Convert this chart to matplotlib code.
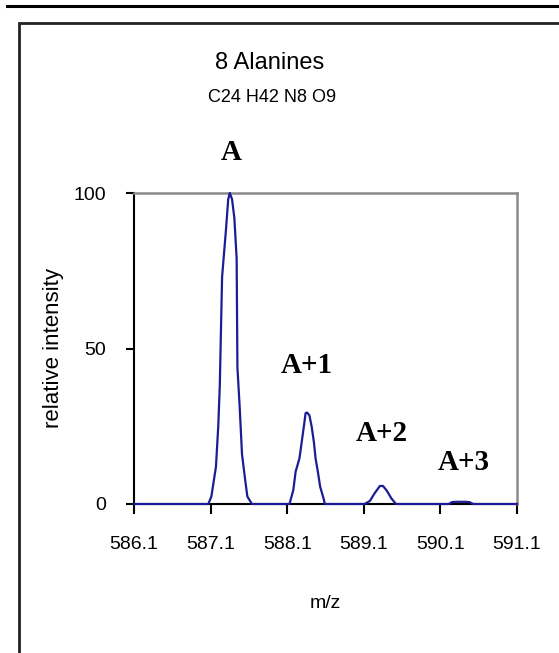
import matplotlib
matplotlib.use("Agg")
import matplotlib.pyplot as plt
from matplotlib.lines import Line2D
from matplotlib.patches import Rectangle

# spectrum, one peak at a time (m/z, relative intensity)
peak_a_mz = [587.07, 587.11, 587.17, 587.20, 587.22, 587.25, 587.30, 587.33, 587.35,
             587.38, 587.41, 587.44, 587.45, 587.48, 587.51, 587.55, 587.58, 587.64]
peak_a_int = [0, 2.4, 12, 25, 38, 73, 88, 98, 100,
              98, 92, 79, 44, 31, 16, 8, 2.4, 0]

peak_a1_mz = [588.13, 588.18, 588.21, 588.26, 588.29, 588.32, 588.34, 588.36,
              588.39, 588.42, 588.45, 588.47, 588.50, 588.53, 588.58, 588.59]
peak_a1_int = [0, 4.5, 10.4, 14.7, 20, 25.4, 29.2, 29.4,
               28.5, 24.8, 19.6, 14.7, 10.4, 5.6, 1.3, 0]

peak_a2_mz = [589.11, 589.18, 589.24, 589.31, 589.35, 589.40, 589.46, 589.52]
peak_a2_int = [0, 1.0, 3.4, 5.8, 5.8, 4.3, 1.8, 0]

peak_a3_mz = [590.21, 590.25, 590.30, 590.36, 590.43, 590.48, 590.53]
peak_a3_int = [0, 0.6, 0.7, 0.7, 0.7, 0.6, 0]

x_start, x_end = 586.1, 591.1
x_ticks = [586.1, 587.1, 588.1, 589.1, 590.1, 591.1]
y_ticks = [0, 50, 100]

peak_labels = ["A", "A+1", "A+2", "A+3"]
label_pos = [(587.37, 113), (588.36, 44.4), (589.33, 22.8), (590.40, 13.5)]

title = "8 Alanines"
formula = "C24 H42 N8 O9"


def main():
    mz = [x_start] + peak_a_mz + peak_a1_mz + peak_a2_mz + peak_a3_mz + [x_end]
    inten = [0] + peak_a_int + peak_a1_int + peak_a2_int + peak_a3_int + [0]

    fig = plt.figure(figsize=(5.59, 6.53), dpi=100)
    W, H = 559, 653

    # outer frame and the line above it
    fig.add_artist(Line2D([7 / W, 1], [1 - 6 / H, 1 - 6 / H], color="black", lw=2.2))
    fig.add_artist(Rectangle((18.5 / W, -0.1), 1.2, 1.1 - 23.5 / H, fill=False,
                             edgecolor="#222222", lw=2.0, transform=fig.transFigure))

    ax = fig.add_axes([134 / W, 149 / H, 383 / W, 311 / H])
    # drawn over the axis line, like the baseline in the original
    ax.plot(mz, inten, color="#1c1c96", lw=1.6, zorder=3, clip_on=False)

    ax.set_xlim(x_start, x_end)
    ax.set_ylim(0, 100)
    ax.set_xticks(x_ticks)
    ax.set_xticklabels([f"{t:.1f}" for t in x_ticks])
    ax.set_yticks(y_ticks)

    sans = "Liberation Sans"
    for lab in ax.get_xticklabels() + ax.get_yticklabels():
        lab.set_family(sans)
        lab.set_fontsize(14)
    ax.tick_params(axis="x", direction="out", length=7, width=1.5, pad=16)
    ax.tick_params(axis="y", direction="out", length=6, width=1.5, pad=14)

    for side in ["top", "right"]:
        ax.spines[side].set_color("#8a8a8a")
        ax.spines[side].set_linewidth(1.8)
    for side in ["left", "bottom"]:
        ax.spines[side].set_color("black")
        ax.spines[side].set_linewidth(1.5)

    ax.set_xlabel("m/z", family=sans, fontsize=14, labelpad=30)
    ax.set_ylabel("relative intensity", family=sans, fontsize=16, labelpad=7)

    fig.text(270 / W, 1 - 63 / H, title, ha="center", va="center",
             family=sans, fontsize=17)
    fig.text(272 / W, 1 - 97 / H, formula, ha="center", va="center",
             family=sans, fontsize=13)

    for text, (x, y) in zip(peak_labels, label_pos):
        ax.text(x, y, text, ha="center", va="center", family="Liberation Serif",
                fontsize=21, fontweight="bold", clip_on=False)

    fig.savefig("out.png", dpi=100)


if __name__ == "__main__":
    main()
